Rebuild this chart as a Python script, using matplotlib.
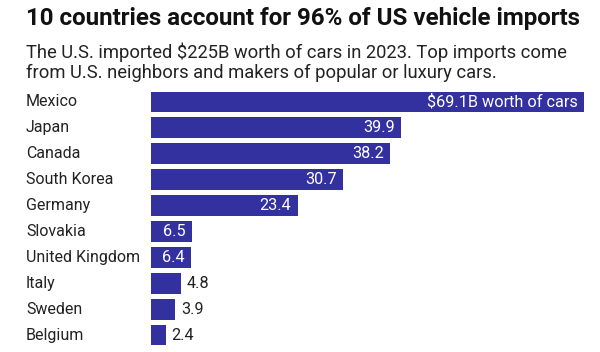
import matplotlib
matplotlib.use("Agg")
import matplotlib.pyplot as plt

countries = ["Mexico", "Japan", "Canada", "South Korea", "Germany", "Slovakia",
             "United Kingdom", "Italy", "Sweden", "Belgium"]
values = [69.1, 39.9, 38.2, 30.7, 23.4, 6.5, 6.4, 4.8, 3.9, 2.4]
labels = ["$69.1B worth of cars", "39.9", "38.2", "30.7", "23.4", "6.5", "6.4", "4.8", "3.9", "2.4"]
inside = [True, True, True, True, True, True, True, False, False, False]

title = "10 countries account for 96% of US vehicle imports"
subtitle = ("The U.S. imported \\$225B worth of cars in 2023. Top imports come\n"
            "from U.S. neighbors and makers of popular or luxury cars.")

plt.rcParams['font.family'] = ['Roboto', 'DejaVu Sans']
color = "#3330a0"

fig = plt.figure(figsize=(6, 3.52), dpi=100)
ax = fig.add_axes([151/600, 1-348/352, (584-151)/600, (348-89)/352])
y = list(range(len(countries)))
ax.barh(y, values, height=0.8, color=color)
ax.set_xlim(0, 69.1)
ax.set_ylim(9.5, -0.5)
ax.axis('off')

for i, (v, lab, ins) in enumerate(zip(values, labels, inside)):
    if ins:
        ax.annotate(lab.replace("$", "\\$"), (v, i), xytext=(-4.5, 0), textcoords='offset points',
                    ha='right', va='center', color='white', fontsize=11.7)
    else:
        ax.annotate(lab, (v, i), xytext=(4, 0), textcoords='offset points',
                    ha='left', va='center', color='#222222', fontsize=11.7)
    fig.text(26/600, 1-(102+i*25.9)/352, countries[i], ha='left', va='center',
             fontsize=11.5, color='#222222')

fig.text(26/600, 1-19/352, title, ha='left', va='center', fontsize=17.4,
         fontweight='bold', color='#111111')
fig.text(26/600, 1-43/352, subtitle, ha='left', va='top', fontsize=13.2,
         color='#222222', linespacing=1.12)

fig.savefig("out.png", dpi=100)
